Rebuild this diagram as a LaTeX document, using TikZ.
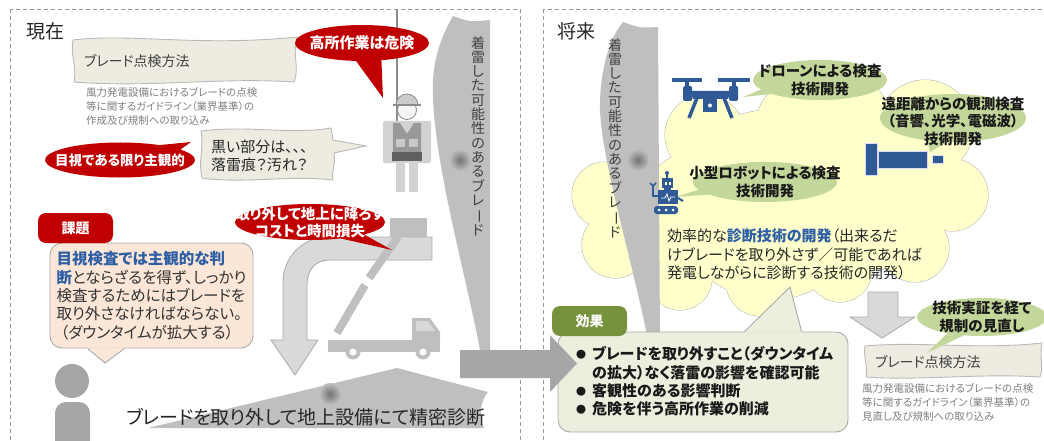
\documentclass[tikz,border=0pt]{standalone}
\usepackage{fontspec}
\setmainfont{Noto Sans CJK JP}[RawFeature=+palt]
\usetikzlibrary{shapes.geometric, shapes.callouts, arrows.meta, positioning, calc}
\definecolor{alertred}{RGB}{192, 0, 0}
\definecolor{bladegray}{RGB}{191, 191, 191}
\definecolor{arrowgray}{RGB}{166, 166, 166}
\definecolor{palegray}{RGB}{217, 217, 217}
\definecolor{edgegray}{RGB}{170, 170, 170}
\definecolor{notepaper}{RGB}{238, 236, 225}
\definecolor{peach}{RGB}{252, 230, 216}
\definecolor{cloudyellow}{RGB}{255, 255, 204}
\definecolor{leafgreen}{RGB}{196, 215, 155}
\definecolor{olivegreen}{RGB}{118, 146, 60}
\definecolor{effectbg}{RGB}{235, 239, 222}
\definecolor{iconblue}{RGB}{47, 90, 150}
\definecolor{keyblue}{RGB}{46, 95, 165}
\definecolor{notegray}{RGB}{127, 127, 127}
\definecolor{inkgray}{RGB}{64, 64, 64}
\newcommand{\fsz}[2]{\fontsize{#1}{#2}\selectfont}
\newcommand{\gainbullet}{\makebox[16pt][l]{\raisebox{1pt}{\fsz{10}{10}●}}}
\tikzset{
    panel/.style={draw=gray!80, dash pattern=on 4pt off 3pt, line width=0.7pt},
    heading/.style={font=\fsz{19}{22}, text=black!85, inner sep=0pt},
    paper/.style={fill=notepaper, draw=gray!55, line width=0.9pt},
    papertext/.style={font=\fsz{14}{18}, text=black!75, inner sep=0pt, align=left},
    note/.style={font=\fsz{10.5}{14}, text=notegray, inner sep=0pt, align=left},
    hot/.style={ellipse callout, fill=alertred, inner sep=0pt, callout pointer arc=22},
    hottext/.style={font=\bfseries\fsz{15}{17.5}, text=white, inner sep=0pt, align=center},
    leaf/.style={ellipse callout, fill=leafgreen, inner sep=0pt, callout pointer arc=16},
    leaftext/.style={font=\bfseries\fsz{14.5}{18}, text=black!90, inner sep=0pt, align=center},
    tag/.style={rectangle, rounded corners=8pt, minimum width=75pt, minimum height=30pt,
                inner sep=0pt, font=\bfseries\fsz{14}{16}, text=white, fill=#1},
    bubble/.style={rectangle, rounded corners=12pt, draw=edgegray, line width=0.9pt, fill=#1},
    bladetext/.style={font=\fsz{14}{14.3}, text=inkgray, inner sep=0pt, align=center},
    lightarrow/.style={fill=palegray, draw=edgegray, line width=0.8pt},
    spot/.style={inner color=gray!90!black, outer color=bladegray},
}

\begin{document}
\begin{tikzpicture}[x=1pt, y=-1pt]
    \useasboundingbox (0,0) rectangle (1044,441);

    % Panels
    \draw[panel] (10,9) rectangle (520,470);
    \draw[panel] (543,9) rectangle (1070,470);
    \node[heading, anchor=west] (now) at (26,31) {現在};
    \node[heading, anchor=west] (future) at (557,31) {将来};

    %% Left: current inspection
    % Inspection rule
    \draw[paper] (73,40) .. controls (130,33) and (200,47) .. (297,37)
        .. controls (292,55) and (300,68) .. (294,82)
        .. controls (220,77) and (150,88) .. (74,82)
        .. controls (77,65) and (70,55) .. cycle;
    \node[papertext, anchor=west] (rule) at (84,61) {ブレード点検方法};
    \node[note, anchor=north west] (rulenote) at (86,87)
        {風力発電設備におけるブレードの点検\\等に関するガイドライン（業界基準）の\\作成及び規制への取り込み};

    % Blade on the tower
    \fill[bladegray] (453,16) .. controls (470,22) .. (490,20) -- (490,350) -- (480,350)
        .. controls (465,270) and (430,150) .. (433,80)
        .. controls (435,50) and (445,30) .. cycle;
    \shade[spot] (460,160) circle (11);
    \node[bladetext, anchor=north] (bladeA) at (478,36)
        {着\\雷\\し\\た\\可\\能\\性\\の\\あ\\る\\ブ\\レ\\\rotatebox[origin=c]{-90}{ー}\\ド};

    % Worker on the rope
    \draw[gray!90, line width=2.5pt] (397,10) -- (397,128);
    \fill[bladegray!70, rounded corners=2pt] (383,121) rectangle (431,163);
    \fill[gray!80] (393,123) -- (400,123) -- (407,134) -- (414,123) -- (421,123) -- (421,160) -- (393,160) -- cycle;
    \fill[bladegray!85] (396,139) rectangle (405,147);
    \fill[bladegray!85] (409,139) rectangle (418,147);
    \fill[gray!75!black] (392,152) rectangle (422,161);
    \fill[bladegray!70] (396,161) rectangle (405,192);
    \fill[bladegray!70] (409,161) rectangle (418,192);
    \filldraw[fill=white!92!gray, draw=gray!90, line width=0.8pt] (407,110) circle (9.5);
    \filldraw[fill=bladegray!80, draw=gray!90, line width=0.8pt]
        (396,105) arc[start angle=180, end angle=360, radius=11] -- cycle;
    \draw[gray!90, line width=1.6pt] (393,105) -- (421,105);

    \node[hot, minimum width=134pt, minimum height=36pt, callout absolute pointer={(383,98)}] (danger) at (362,43) {};
    \node[hottext] (dangertext) at (danger.center) {高所作業は危険};

    % Black marks question
    \draw[paper] (201,131) .. controls (250,125) and (290,135) .. (331,128) -- (333,140) -- (366,146) -- (334,153)
        .. controls (336,165) and (331,172) .. (333,180)
        .. controls (290,175) and (240,184) .. (202,178)
        .. controls (198,160) and (204,150) .. cycle;
    \node[papertext, font=\fsz{15}{18}, text=black!85, anchor=north west] (stain) at (211,139.5)
        {黒い部分は、、、\\落雷痕？汚れ？};

    \node[hot, minimum width=150pt, minimum height=35pt, callout absolute pointer={(191,142)}] (subj) at (120,160) {};
    \node[hottext, font=\bfseries\fsz{13.5}{16}] (subjtext) at (subj.center) {目視である限り主観的};

    % Issue
    \node[bubble=peach, minimum width=203pt, minimum height=105pt, align=left,
          font=\fsz{15.5}{18.3}, text=black!80] (issue) at (151.5,295.5)
        {{\color{keyblue}\bfseries 目視検査では主観的な判}\\
         {\color{keyblue}\bfseries 断}とならざるを得ず、しっかり\\
         検査するためにはブレードを\\
         取り外さなければならない。\\
         \hspace*{4pt}（ダウンタイムが拡大する）};
    \coordinate (speaker) at (105,363);
    \fill[peach] ([xshift=38pt, yshift=1pt]issue.south west) -- (speaker) -- ([xshift=75pt, yshift=1pt]issue.south west) -- cycle;
    \draw[edgegray, line width=0.9pt] ([xshift=38pt]issue.south west) -- (speaker) -- ([xshift=75pt]issue.south west);
    \node[tag=alertred] (issuetag) at (75.5,228) {課題};

    % Person
    \fill[arrowgray] (72,381) circle (17);
    \fill[arrowgray, rounded corners=11pt] (55,470) -- (55,402) -- (90,402) -- (90,470) -- cycle;

    % Ground inspection
    \fill[bladegray] (148,428) -- (397,368) -- (488,392)
        .. controls (478,405) and (480,418) .. (484,428) -- cycle;
    \shade[spot] (330,394) circle (11);
    \node[font=\fsz{19}{22}, text=black!85, anchor=west, inner sep=0pt] (lab) at (126,417)
        {ブレードを取り外して地上設備にて精密診断};

    % Lowering arrow
    \draw[lightarrow] (432,237) -- (328,237) .. controls (303,237) and (283,257) .. (283,282)
        -- (283,340) -- (271,340) -- (295,375) -- (318,340) -- (307,340) -- (307,285)
        .. controls (307,270) and (315,260) .. (330,260) -- (432,260) -- cycle;

    % Truck with boom
    \fill[bladegray] (328,340) rectangle (440,352);
    \fill[bladegray] (412,318) -- (430,318) -- (440,332) -- (440,340) -- (412,340) -- cycle;
    \fill[palegray] (416,321) -- (428,321) -- (435,331) -- (416,331) -- cycle;
    \foreach \wx in {353,423} {
        \fill[bladegray] (\wx,352) circle (7.5);
        \fill[white] (\wx,352) circle (3.5);
    }
    \draw[bladegray, line width=8pt] (337,333) -- (365,285);
    \draw[bladegray, line width=8pt] (369,278) -- (398,237);
    \fill[bladegray] (390,218) rectangle (427,237);

    \node[hot, minimum width=150pt, minimum height=36pt, callout absolute pointer={(392,250)}] (lower) at (310,222) {};
    \node[hottext, font=\bfseries\fsz{14.5}{17}] (lowertext) at (lower.center)
        {取り外して地上に降ろす\\コストと時間損失};

    %% Right: future inspection
    % Cloud
    \foreach \cx/\cy/\r in {605/195/33, 615/245/33, 680/278/32, 760/282/34, 840/270/32,
                            915/248/34, 952/195/36, 925/128/48, 850/115/38, 790/118/32,
                            705/135/40, 770/205/95, 700/210/60, 870/200/70}
        \draw[gray!60, line width=1pt] (\cx,\cy) circle (\r);
    \foreach \cx/\cy/\r in {605/195/33, 615/245/33, 680/278/32, 760/282/34, 840/270/32,
                            915/248/34, 952/195/36, 925/128/48, 850/115/38, 790/118/32,
                            705/135/40, 770/205/95, 700/210/60, 870/200/70}
        \fill[cloudyellow] (\cx,\cy) circle (\r);

    % Blade in place
    \fill[bladegray] (623,22) .. controls (640,28) .. (658,27) -- (660,340) -- (648,340)
        .. controls (630,250) and (598,150) .. (600,100)
        .. controls (602,60) and (612,35) .. cycle;
    \shade[spot] (638,160) circle (11);
    \node[bladetext, anchor=north] (bladeB) at (615,38)
        {着\\雷\\し\\た\\可\\能\\性\\の\\あ\\る\\ブ\\レ\\\rotatebox[origin=c]{-90}{ー}\\ド};

    \node[font=\fsz{15}{18.5}, text=black!85, anchor=north west, inner sep=0pt, align=left] (aim) at (667,228.5)
        {効率的な{\color{keyblue}\bfseries 診断技術の開発}（出来るだ\\けブレードを取り外さず／可能であれば\\発電しながらに診断する技術の開発）};

    % Drone
    \node[leaf, minimum width=134pt, minimum height=40pt, callout absolute pointer={(743,97)}] (drone) at (820,80) {};
    \node[leaftext] (dronetext) at (drone.center) {ドローンによる検査\\技術開発};
    \fill[iconblue] (672,78) rectangle (702,82);
    \fill[iconblue] (718,78) rectangle (750,82);
    \fill[iconblue] (685,80) rectangle (689,90);
    \fill[iconblue] (732,80) rectangle (736,90);
    \fill[iconblue, rounded corners=1.5pt] (683,86) rectangle (692,101);
    \fill[iconblue, rounded corners=1.5pt] (729,86) rectangle (738,101);
    \fill[iconblue] (690,91) -- (731,91) -- (728,99) -- (693,99) -- cycle;
    \draw[iconblue, line width=3.5pt] (697,98) -- (689,118);
    \draw[iconblue, line width=3.5pt] (724,98) -- (732,118);
    \fill[iconblue] (703,99) rectangle (717,112);
    \fill[white] (710,105.5) circle (2);

    % Remote sensing
    \node[leaf, minimum width=146pt, minimum height=48pt, callout absolute pointer={(930,152)}] (remote) at (953,118) {};
    \node[leaftext, font=\bfseries\fsz{14.5}{17.5}] (remotetext) at ([yshift=-3pt]remote.center)
        {遠距離からの観測検査\\（音響、光学、電磁波）\\技術開発};
    \filldraw[fill=iconblue, draw=blue!15, line width=0.8pt] (865,143) rectangle (877,175);
    \filldraw[fill=iconblue, draw=blue!15, line width=0.8pt] (878,151) rectangle (927,168);
    \filldraw[fill=iconblue, draw=blue!15, line width=0.8pt] (932,155) rectangle (943,163);

    % Small robot
    \node[leaf, minimum width=144pt, minimum height=40pt, callout absolute pointer={(675,197)}] (robot) at (765,182) {};
    \node[leaftext] (robottext) at (robot.center) {小型ロボットによる検査\\技術開発};
    \fill[iconblue] (667,173) circle (2);
    \draw[iconblue, line width=1.2pt] (667,173) -- (667,178);
    \fill[iconblue] (662,178) rectangle (673,188);
    \fill[white] (665,182) rectangle (666.5,184.5);
    \fill[white] (669,182) rectangle (670.5,184.5);
    \fill[iconblue] (664,188) rectangle (671,190);
    \fill[iconblue] (658,190) rectangle (678,204);
    \draw[white, line width=0.8pt] (661,198) -- (665,198) -- (667,194) -- (669,201) -- (671,197) -- (675,197);
    \draw[iconblue, line width=2pt] (658,196) -- (653,196) -- (653,186);
    \draw[iconblue, line width=1.5pt] (650,183) -- (653,186) -- (656,183);
    \draw[iconblue, line width=2pt] (678,198) -- (683,201);
    \fill[iconblue, rounded corners=3pt] (654,206) rectangle (678,214);
    \foreach \tx in {659,666,673} \fill[white] (\tx,210) circle (1.5);

    % Effects
    \node[bubble=effectbg, minimum width=290pt, minimum height=100pt] (effect) at (703,382) {};
    \coordinate (aimpoint) at (790,287);
    \fill[effectbg] ([xshift=187pt, yshift=-1pt]effect.north west) -- (aimpoint) -- ([xshift=244pt, yshift=-1pt]effect.north west) -- cycle;
    \draw[edgegray, line width=0.9pt] ([xshift=187pt]effect.north west) -- (aimpoint) -- ([xshift=244pt]effect.north west);
    \node[tag=olivegreen] (effecttag) at (589.5,321) {効果};
    \node[font=\bfseries\fsz{15}{18.3}, text=black!90, anchor=north west, inner sep=0pt, align=left] (gains) at (576,346.5)
        {\gainbullet ブレードを取り外すこと（ダウンタイム\\
         \hspace*{16pt}の拡大）なく落雷の影響を確認可能\\
         \gainbullet 客観性のある影響判断\\
         \gainbullet 危険を伴う高所作業の削減};

    % Revised rule
    \draw[lightarrow] (868,292) -- (898,292) -- (898,317) -- (915,317) -- (882,338) -- (850,317) -- (868,317) -- cycle;
    \draw[paper] (865,346) .. controls (920,341) and (980,350) .. (1042,343)
        .. controls (1039,358) and (1044,368) .. (1040,377)
        .. controls (980,373) and (920,381) .. (866,377)
        .. controls (868,365) and (863,356) .. cycle;
    \node[papertext, anchor=west] (rulenew) at (875,362) {ブレード点検方法};
    \node[note, anchor=north west] (rulenewnote) at (862,383)
        {風力発電設備におけるブレードの点検\\等に関するガイドライン（業界基準）の\\見直し及び規制への取り込み};
    \node[leaf, minimum width=130pt, minimum height=38pt, callout absolute pointer={(927,353)}] (proof) at (982,317) {};
    \node[leaftext] (prooftext) at (proof.center) {技術実証を経て\\規制の見直し};

    % Transition
    \fill[arrowgray] (460,350) -- (550,350) -- (550,335) -- (577,363.5) -- (550,392) -- (550,378) -- (460,378) -- cycle;
\end{tikzpicture}
\end{document}
